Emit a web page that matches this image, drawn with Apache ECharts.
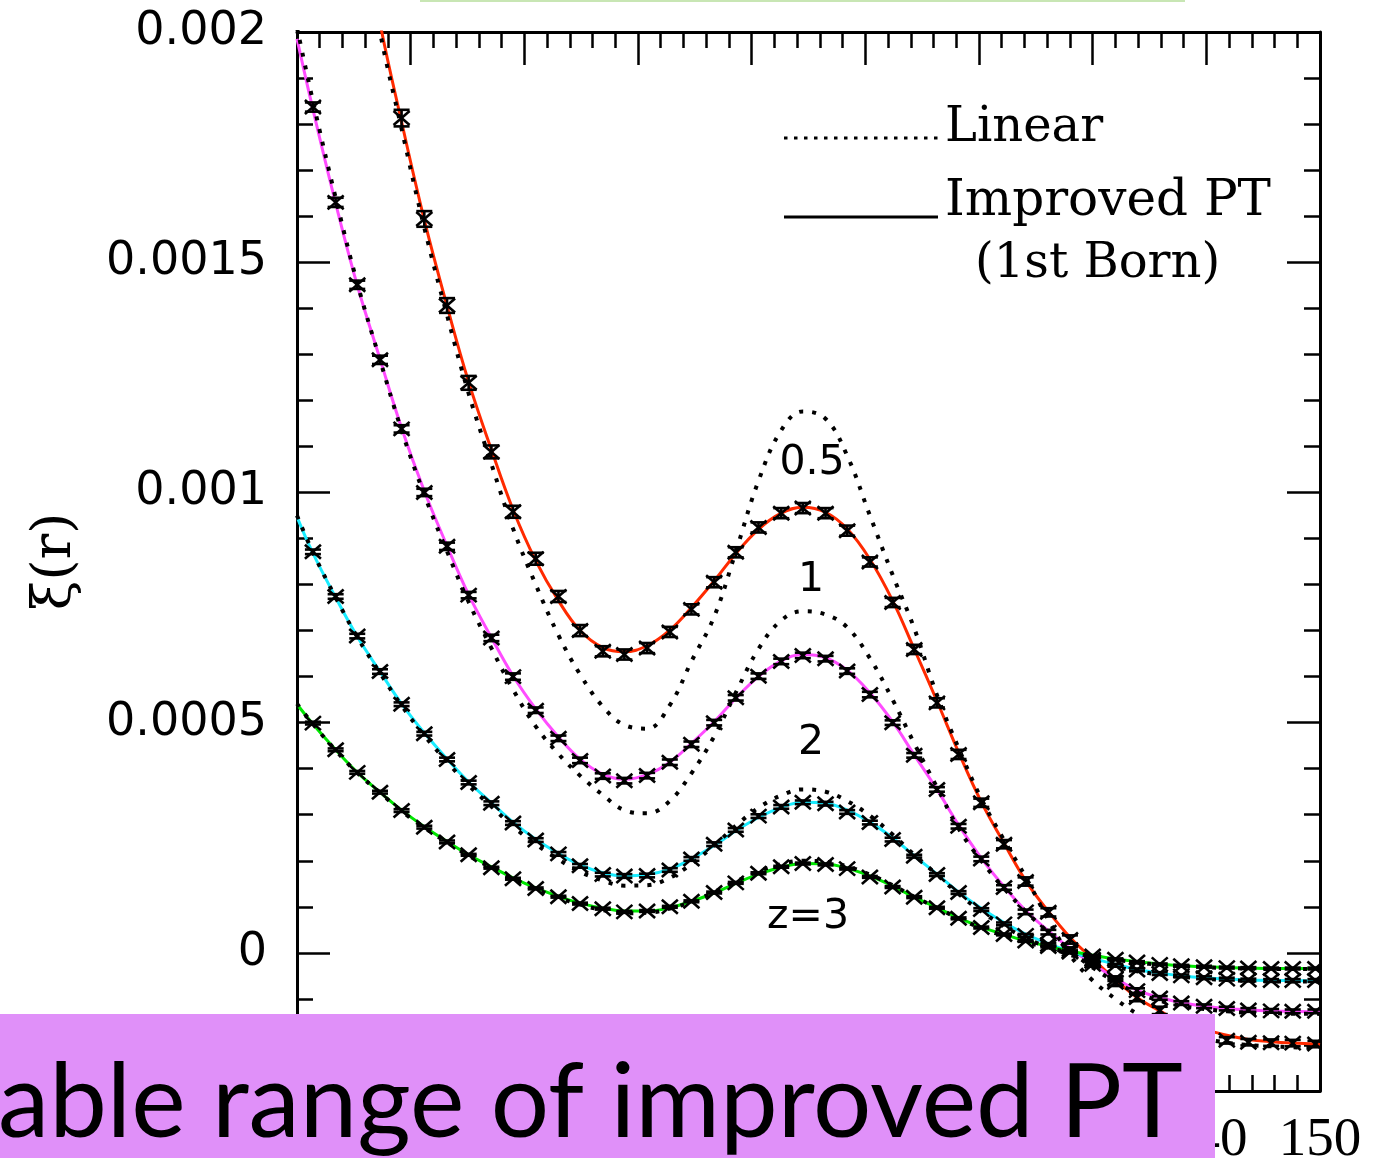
<!DOCTYPE html>
<html>
<head>
<meta charset="utf-8">
<script src="https://cdn.jsdelivr.net/npm/echarts@6.0.0/dist/echarts.min.js"></script>
<style>
html,body{margin:0;padding:0;background:#fff;}
#chart{width:1375px;height:1158px;}
</style>
</head>
<body>
<div id="chart"></div>
<script>
// separation r [Mpc/h] of the N-body bins
const xs = [61.4, 63.4, 65.3, 67.3, 69.2, 71.2, 73.2, 75.1, 77.1, 79.0,
  81.0, 83.0, 84.9, 86.9, 88.8, 90.8, 92.8, 94.7, 96.7, 98.6,
  100.6, 102.6, 104.5, 106.5, 108.4, 110.4, 112.4, 114.3, 116.3, 118.2,
  120.2, 122.2, 124.1, 126.1, 128.0, 130.0, 132.0, 133.9, 135.9, 137.8,
  139.8, 141.8, 143.7, 145.7, 147.6, 149.6];
// theory curves sampled at the axis ends plus the bin positions
const lineX = [60, 61.4, 63.4, 65.3, 67.3, 69.2, 71.2, 73.2, 75.1, 77.1, 79.0,
  81.0, 83.0, 84.9, 86.9, 88.8, 90.8, 92.8, 94.7, 96.7, 98.6,
  100.6, 102.6, 104.5, 106.5, 108.4, 110.4, 112.4, 114.3, 116.3, 118.2,
  120.2, 122.2, 124.1, 126.1, 128.0, 130.0, 132.0, 133.9, 135.9, 137.8,
  139.8, 141.8, 143.7, 145.7, 147.6, 149.6, 150];

const xTickLabels = ['60','70','80','90','100','110','120','130','140','150'];
const yTickValues = [0, 0.0005, 0.001, 0.0015, 0.002];
const yTickLabels = ['0','0.0005','0.001','0.0015','0.002'];

// N-body xi(r)
const nbZ05 = [null, null, null, null, 1.813e-3, 1.594e-3, 1.406e-3, 1.238e-3, 1.088e-3, 0.958e-3,
  0.856e-3, 0.774e-3, 0.700e-3, 0.655e-3, 0.648e-3, 0.662e-3, 0.697e-3, 0.746e-3, 0.805e-3, 0.870e-3,
  0.924e-3, 0.955e-3, 0.966e-3, 0.955e-3, 0.917e-3, 0.849e-3, 0.761e-3, 0.659e-3, 0.543e-3, 0.431e-3,
  0.326e-3, 0.236e-3, 0.155e-3, 0.088e-3, 0.029e-3, -0.018e-3, -0.064e-3, -0.097e-3, -0.125e-3, -0.151e-3,
  -0.166e-3, -0.190e-3, -0.194e-3, -0.195e-3, -0.196e-3, -0.198e-3];
const nbZ1 = [1.837e-3, 1.630e-3, 1.451e-3, 1.288e-3, 1.138e-3, 1.000e-3, 0.883e-3, 0.777e-3, 0.684e-3, 0.600e-3,
  0.527e-3, 0.466e-3, 0.418e-3, 0.384e-3, 0.374e-3, 0.385e-3, 0.414e-3, 0.453e-3, 0.500e-3, 0.554e-3,
  0.601e-3, 0.633e-3, 0.646e-3, 0.639e-3, 0.612e-3, 0.561e-3, 0.500e-3, 0.429e-3, 0.355e-3, 0.275e-3,
  0.204e-3, 0.142e-3, 0.089e-3, 0.045e-3, 0.007e-3, -0.025e-3, -0.056e-3, -0.082e-3, -0.098e-3, -0.109e-3,
  -0.116e-3, -0.121e-3, -0.124e-3, -0.126e-3, -0.127e-3, -0.127e-3];
const nbZ2 = [0.871e-3, 0.774e-3, 0.688e-3, 0.611e-3, 0.540e-3, 0.476e-3, 0.420e-3, 0.370e-3, 0.325e-3, 0.282e-3,
  0.245e-3, 0.215e-3, 0.189e-3, 0.170e-3, 0.167e-3, 0.168e-3, 0.180e-3, 0.204e-3, 0.236e-3, 0.267e-3,
  0.297e-3, 0.317e-3, 0.327e-3, 0.324e-3, 0.306e-3, 0.283e-3, 0.246e-3, 0.210e-3, 0.170e-3, 0.131e-3,
  0.094e-3, 0.063e-3, 0.038e-3, 0.018e-3, 0.002e-3, -0.014e-3, -0.027e-3, -0.037e-3, -0.045e-3, -0.050e-3,
  -0.054e-3, -0.057e-3, -0.059e-3, -0.060e-3, -0.060e-3, -0.060e-3];
const nbZ3 = [0.499e-3, 0.441e-3, 0.392e-3, 0.349e-3, 0.309e-3, 0.273e-3, 0.241e-3, 0.213e-3, 0.185e-3, 0.161e-3,
  0.140e-3, 0.122e-3, 0.107e-3, 0.096e-3, 0.089e-3, 0.091e-3, 0.100e-3, 0.112e-3, 0.131e-3, 0.152e-3,
  0.173e-3, 0.187e-3, 0.194e-3, 0.192e-3, 0.183e-3, 0.165e-3, 0.143e-3, 0.121e-3, 0.098e-3, 0.075e-3,
  0.055e-3, 0.040e-3, 0.026e-3, 0.014e-3, 0.003e-3, -0.007e-3, -0.014e-3, -0.020e-3, -0.025e-3, -0.028e-3,
  -0.030e-3, -0.032e-3, -0.033e-3, -0.034e-3, -0.034e-3, -0.034e-3];

// N-body error bars
const errZ05 = [0.019e-3, 0.019e-3, 0.018e-3, 0.018e-3, 0.018e-3, 0.017e-3, 0.016e-3, 0.015e-3, 0.014e-3, 0.013e-3,
  0.013e-3, 0.012e-3, 0.012e-3, 0.011e-3, 0.011e-3, 0.011e-3, 0.011e-3, 0.011e-3, 0.011e-3, 0.011e-3,
  0.011e-3, 0.011e-3, 0.011e-3, 0.011e-3, 0.011e-3, 0.010e-3, 0.010e-3, 0.010e-3, 0.010e-3, 0.010e-3,
  0.009e-3, 0.009e-3, 0.009e-3, 0.009e-3, 0.009e-3, 0.008e-3, 0.008e-3, 0.008e-3, 0.008e-3, 0.008e-3,
  0.008e-3, 0.007e-3, 0.007e-3, 0.007e-3, 0.007e-3, 0.007e-3];
const errZ1 = [0.010e-3, 0.010e-3, 0.009e-3, 0.009e-3, 0.008e-3, 0.008e-3, 0.008e-3, 0.007e-3, 0.007e-3, 0.007e-3,
  0.006e-3, 0.006e-3, 0.006e-3, 0.006e-3, 0.006e-3, 0.006e-3, 0.006e-3, 0.006e-3, 0.006e-3, 0.006e-3,
  0.006e-3, 0.006e-3, 0.006e-3, 0.006e-3, 0.006e-3, 0.006e-3, 0.005e-3, 0.005e-3, 0.005e-3, 0.005e-3,
  0.005e-3, 0.005e-3, 0.005e-3, 0.005e-3, 0.005e-3, 0.005e-3, 0.005e-3, 0.005e-3, 0.004e-3, 0.004e-3,
  0.004e-3, 0.004e-3, 0.004e-3, 0.004e-3, 0.004e-3, 0.004e-3];
const errZ2 = [0.005e-3, 0.005e-3, 0.005e-3, 0.005e-3, 0.004e-3, 0.004e-3, 0.004e-3, 0.004e-3, 0.004e-3, 0.004e-3,
  0.004e-3, 0.004e-3, 0.004e-3, 0.004e-3, 0.004e-3, 0.004e-3, 0.004e-3, 0.004e-3, 0.004e-3, 0.004e-3,
  0.004e-3, 0.004e-3, 0.004e-3, 0.004e-3, 0.004e-3, 0.004e-3, 0.004e-3, 0.003e-3, 0.003e-3, 0.003e-3,
  0.003e-3, 0.003e-3, 0.003e-3, 0.003e-3, 0.003e-3, 0.003e-3, 0.003e-3, 0.003e-3, 0.003e-3, 0.003e-3,
  0.003e-3, 0.003e-3, 0.003e-3, 0.003e-3, 0.003e-3, 0.003e-3];
const errZ3 = [0.003e-3, 0.003e-3, 0.003e-3, 0.003e-3, 0.003e-3, 0.003e-3, 0.003e-3, 0.002e-3, 0.002e-3, 0.002e-3,
  0.002e-3, 0.002e-3, 0.002e-3, 0.002e-3, 0.002e-3, 0.002e-3, 0.002e-3, 0.002e-3, 0.002e-3, 0.002e-3,
  0.002e-3, 0.002e-3, 0.002e-3, 0.002e-3, 0.002e-3, 0.002e-3, 0.002e-3, 0.002e-3, 0.002e-3, 0.002e-3,
  0.002e-3, 0.002e-3, 0.002e-3, 0.002e-3, 0.002e-3, 0.002e-3, 0.002e-3, 0.002e-3, 0.002e-3, 0.002e-3,
  0.002e-3, 0.002e-3, 0.002e-3, 0.002e-3, 0.002e-3, 0.002e-3];

// Improved PT (1st Born), sampled at lineX
const ptZ05 = [3.35e-3, 2.98e-3, 2.62e-3, 2.30e-3, 2.02e-3, 1.805e-3, 1.592e-3, 1.405e-3, 1.240e-3, 1.093e-3, 0.963e-3,
  0.852e-3, 0.765e-3, 0.700e-3, 0.663e-3, 0.654e-3, 0.667e-3, 0.701e-3, 0.750e-3, 0.808e-3, 0.867e-3,
  0.920e-3, 0.955e-3, 0.968e-3, 0.957e-3, 0.921e-3, 0.855e-3, 0.765e-3, 0.660e-3, 0.547e-3, 0.436e-3,
  0.328e-3, 0.238e-3, 0.157e-3, 0.090e-3, 0.034e-3, -0.013e-3, -0.058e-3, -0.097e-3, -0.126e-3, -0.151e-3,
  -0.166e-3, -0.179e-3, -0.188e-3, -0.193e-3, -0.196e-3, -0.198e-3, -0.199e-3];
const ptZ1 = [1.985e-3, 1.832e-3, 1.628e-3, 1.450e-3, 1.290e-3, 1.140e-3, 1.003e-3, 0.884e-3, 0.778e-3, 0.685e-3, 0.602e-3,
  0.530e-3, 0.469e-3, 0.421e-3, 0.388e-3, 0.377e-3, 0.387e-3, 0.414e-3, 0.455e-3, 0.502e-3, 0.553e-3,
  0.600e-3, 0.634e-3, 0.648e-3, 0.641e-3, 0.614e-3, 0.565e-3, 0.502e-3, 0.430e-3, 0.355e-3, 0.278e-3,
  0.206e-3, 0.144e-3, 0.092e-3, 0.048e-3, 0.010e-3, -0.024e-3, -0.055e-3, -0.081e-3, -0.097e-3, -0.108e-3,
  -0.116e-3, -0.121e-3, -0.124e-3, -0.126e-3, -0.127e-3, -0.128e-3, -0.128e-3];
const ptZ2 = [0.947e-3, 0.868e-3, 0.772e-3, 0.687e-3, 0.611e-3, 0.541e-3, 0.478e-3, 0.421e-3, 0.371e-3, 0.326e-3, 0.284e-3,
  0.247e-3, 0.216e-3, 0.191e-3, 0.174e-3, 0.167e-3, 0.170e-3, 0.182e-3, 0.204e-3, 0.233e-3, 0.265e-3,
  0.294e-3, 0.316e-3, 0.327e-3, 0.325e-3, 0.310e-3, 0.284e-3, 0.250e-3, 0.211e-3, 0.171e-3, 0.132e-3,
  0.097e-3, 0.066e-3, 0.041e-3, 0.020e-3, 0.003e-3, -0.012e-3, -0.025e-3, -0.036e-3, -0.044e-3, -0.050e-3,
  -0.054e-3, -0.057e-3, -0.059e-3, -0.060e-3, -0.060e-3, -0.061e-3, -0.061e-3];
const ptZ3 = [0.540e-3, 0.497e-3, 0.441e-3, 0.392e-3, 0.349e-3, 0.310e-3, 0.274e-3, 0.242e-3, 0.213e-3, 0.187e-3, 0.163e-3,
  0.141e-3, 0.123e-3, 0.108e-3, 0.097e-3, 0.091e-3, 0.091e-3, 0.098e-3, 0.112e-3, 0.130e-3, 0.151e-3,
  0.171e-3, 0.186e-3, 0.194e-3, 0.193e-3, 0.184e-3, 0.167e-3, 0.145e-3, 0.121e-3, 0.098e-3, 0.076e-3,
  0.056e-3, 0.040e-3, 0.026e-3, 0.014e-3, 0.004e-3, -0.005e-3, -0.013e-3, -0.019e-3, -0.024e-3, -0.028e-3,
  -0.030e-3, -0.032e-3, -0.033e-3, -0.034e-3, -0.034e-3, -0.034e-3, -0.034e-3];

// Linear theory, sampled at lineX
const linZ05 = [3.30e-3, 2.94e-3, 2.58e-3, 2.27e-3, 2.00e-3, 1.790e-3, 1.575e-3, 1.385e-3, 1.215e-3, 1.062e-3, 0.922e-3,
  0.800e-3, 0.690e-3, 0.605e-3, 0.535e-3, 0.495e-3, 0.487e-3, 0.538e-3, 0.633e-3, 0.730e-3, 0.871e-3,
  1.025e-3, 1.135e-3, 1.176e-3, 1.160e-3, 1.080e-3, 0.950e-3, 0.821e-3, 0.705e-3, 0.560e-3, 0.445e-3,
  0.335e-3, 0.245e-3, 0.165e-3, 0.072e-3, -0.005e-3, -0.060e-3, -0.100e-3, -0.132e-3, -0.156e-3, -0.173e-3,
  -0.186e-3, -0.195e-3, -0.200e-3, -0.203e-3, -0.205e-3, -0.206e-3, -0.206e-3];
const linZ1 = [2.010e-3, 1.850e-3, 1.640e-3, 1.455e-3, 1.288e-3, 1.135e-3, 0.995e-3, 0.872e-3, 0.762e-3, 0.662e-3, 0.572e-3,
  0.492e-3, 0.432e-3, 0.385e-3, 0.343e-3, 0.310e-3, 0.303e-3, 0.330e-3, 0.390e-3, 0.470e-3, 0.565e-3,
  0.660e-3, 0.722e-3, 0.742e-3, 0.735e-3, 0.707e-3, 0.640e-3, 0.550e-3, 0.455e-3, 0.360e-3, 0.270e-3,
  0.200e-3, 0.140e-3, 0.090e-3, 0.045e-3, 0.005e-3, -0.032e-3, -0.063e-3, -0.087e-3, -0.104e-3, -0.115e-3,
  -0.122e-3, -0.127e-3, -0.130e-3, -0.131e-3, -0.132e-3, -0.132e-3, -0.132e-3];
const linZ2 = [0.950e-3, 0.870e-3, 0.772e-3, 0.686e-3, 0.608e-3, 0.537e-3, 0.472e-3, 0.415e-3, 0.364e-3, 0.318e-3, 0.275e-3,
  0.236e-3, 0.203e-3, 0.176e-3, 0.157e-3, 0.146e-3, 0.147e-3, 0.163e-3, 0.193e-3, 0.233e-3, 0.276e-3,
  0.315e-3, 0.342e-3, 0.355e-3, 0.350e-3, 0.330e-3, 0.298e-3, 0.257e-3, 0.213e-3, 0.170e-3, 0.128e-3,
  0.090e-3, 0.058e-3, 0.032e-3, 0.012e-3, -0.004e-3, -0.018e-3, -0.030e-3, -0.040e-3, -0.047e-3, -0.052e-3,
  -0.056e-3, -0.059e-3, -0.061e-3, -0.062e-3, -0.062e-3, -0.062e-3, -0.062e-3];
const linZ3 = [0.541e-3, 0.497e-3, 0.440e-3, 0.391e-3, 0.348e-3, 0.308e-3, 0.272e-3, 0.240e-3, 0.211e-3, 0.185e-3, 0.161e-3,
  0.139e-3, 0.120e-3, 0.105e-3, 0.093e-3, 0.086e-3, 0.087e-3, 0.096e-3, 0.111e-3, 0.132e-3, 0.155e-3,
  0.177e-3, 0.193e-3, 0.200e-3, 0.198e-3, 0.188e-3, 0.170e-3, 0.147e-3, 0.122e-3, 0.098e-3, 0.075e-3,
  0.054e-3, 0.037e-3, 0.023e-3, 0.011e-3, 0.001e-3, -0.008e-3, -0.015e-3, -0.021e-3, -0.026e-3, -0.029e-3,
  -0.031e-3, -0.033e-3, -0.034e-3, -0.035e-3, -0.035e-3, -0.035e-3, -0.035e-3];

const colZ05 = '#ff2a00', colZ1 = '#ff4cff', colZ2 = '#19ecff', colZ3 = '#00e600';

function pairs(xArr, yArr) {
  return xArr.map((x, i) => [x, yArr[i]]);
}
function triples(xArr, yArr, eArr) {
  const out = [];
  xArr.forEach((x, i) => { if (yArr[i] !== null) out.push([x, yArr[i], eArr[i]]); });
  return out;
}
function ptSeries(name, vals, color) {
  return { name, type: 'line', data: pairs(lineX, vals), smooth: 0.4, symbol: 'none', z: 2,
    lineStyle: { color, width: 3 }, clip: true, silent: true };
}
function linSeries(name, vals) {
  return { name, type: 'line', data: pairs(lineX, vals), smooth: 0.4, symbol: 'none', z: 3,
    lineStyle: { color: '#000', width: 4, type: [4, 9], cap: 'butt' }, clip: true, silent: true };
}
function renderNbody(params, api) {
  const x = api.value(0), y = api.value(1), e = api.value(2);
  const c = api.coord([x, y]), t = api.coord([x, y + e]), b = api.coord([x, y - e]);
  const w = 8, h = 7, cw = 8;
  const st = { stroke: '#000', lineWidth: 2.6 };
  return { type: 'group', children: [
    { type: 'line', shape: { x1: c[0] - w, y1: c[1] - h, x2: c[0] + w, y2: c[1] + h }, style: st },
    { type: 'line', shape: { x1: c[0] - w, y1: c[1] + h, x2: c[0] + w, y2: c[1] - h }, style: st },
    { type: 'line', shape: { x1: c[0], y1: t[1], x2: c[0], y2: b[1] }, style: st },
    { type: 'line', shape: { x1: c[0] - cw, y1: t[1], x2: c[0] + cw, y2: t[1] }, style: st },
    { type: 'line', shape: { x1: c[0] - cw, y1: b[1], x2: c[0] + cw, y2: b[1] }, style: st }
  ]};
}
function nbSeries(name, vals, errs) {
  return { name, type: 'custom', data: triples(xs, vals, errs), renderItem: renderNbody, z: 4, clip: true, silent: true };
}

const tickStyle = { color: '#000', width: 2.5 };
const axisLineStyle = { color: '#000', width: 3 };
function xAxisDef(pos, showLabel) {
  return {
    type: 'value', min: 60, max: 150, interval: 10, position: pos,
    axisLine: { show: true, onZero: false, lineStyle: axisLineStyle },
    axisTick: { show: true, inside: true, length: 33, lineStyle: tickStyle },
    minorTick: { show: true, splitNumber: 5, length: 16, lineStyle: tickStyle },
    splitLine: { show: false }, minorSplitLine: { show: false },
    axisLabel: { show: showLabel, color: '#000', fontFamily: 'Liberation Serif', fontSize: 55, margin: 22,
      showMinLabel: true, showMaxLabel: true, hideOverlap: false,
      formatter: v => { const i = Math.round((v - 60) / 10); return xTickLabels[i] || ''; } }
  };
}
function yLabelFmt(v) {
  for (let i = 0; i < yTickValues.length; i++) {
    if (Math.abs(v - yTickValues[i]) < 1e-9) return yTickLabels[i];
  }
  return '';
}
function yMinorDef(pos, showLabel) {
  return {
    type: 'value', min: -0.0003, max: 0.002, interval: 0.0001, position: pos,
    axisLine: { show: true, onZero: false, lineStyle: axisLineStyle },
    axisTick: { show: true, inside: true, length: 16, lineStyle: tickStyle },
    splitLine: { show: false },
    axisLabel: { show: showLabel, color: '#000', fontFamily: 'DejaVu Sans', fontSize: 46, margin: 30,
      showMinLabel: true, showMaxLabel: true, hideOverlap: false, formatter: yLabelFmt },
    name: showLabel ? 'ξ(r)' : '', nameLocation: 'middle', nameRotate: 90, nameGap: 214,
    nameTextStyle: { fontFamily: 'DejaVu Serif', fontSize: 54, color: '#000' }
  };
}
function yMajorDef(pos) {
  return {
    type: 'value', min: -0.0003, max: 0.002, position: pos,
    axisLine: { show: false, onZero: false },
    axisTick: { show: true, inside: true, length: 33, lineStyle: tickStyle, customValues: yTickValues },
    axisLabel: { show: false }, splitLine: { show: false }
  };
}

const chart = echarts.init(document.getElementById('chart'), null, { renderer: 'canvas' });
chart.setOption({
  animation: false,
  backgroundColor: '#fff',
  grid: { left: 297, right: 55, top: 32, bottom: 67, containLabel: false, outerBoundsMode: 'none' },
  xAxis: [xAxisDef('bottom', true), xAxisDef('top', false)],
  yAxis: [yMinorDef('left', true), yMajorDef('left'), yMinorDef('right', false), yMajorDef('right')],
  series: [
    ptSeries('Improved PT z=0.5', ptZ05, colZ05),
    ptSeries('Improved PT z=1', ptZ1, colZ1),
    ptSeries('Improved PT z=2', ptZ2, colZ2),
    ptSeries('Improved PT z=3', ptZ3, colZ3),
    linSeries('Linear z=0.5', linZ05),
    linSeries('Linear z=1', linZ1),
    linSeries('Linear z=2', linZ2),
    linSeries('Linear z=3', linZ3),
    nbSeries('N-body z=0.5', nbZ05, errZ05),
    nbSeries('N-body z=1', nbZ1, errZ1),
    nbSeries('N-body z=2', nbZ2, errZ2),
    nbSeries('N-body z=3', nbZ3, errZ3)
  ],
  graphic: [
    { type: 'rect', shape: { x: 420, y: -20, width: 765, height: 22 }, style: { fill: '#c8e6b4' }, z: 100 },
    // legend
    { type: 'line', shape: { x1: 784, y1: 138, x2: 938, y2: 138 }, style: { stroke: '#000', lineWidth: 3, lineDash: [3.5, 6.5] }, z: 100 },
    { type: 'text', x: 945, y: 129, style: { text: 'Linear', font: '48px "DejaVu Serif"', fill: '#000', textAlign: 'left', textVerticalAlign: 'middle' }, z: 100 },
    { type: 'line', shape: { x1: 784, y1: 217, x2: 938, y2: 217 }, style: { stroke: '#000', lineWidth: 3 }, z: 100 },
    { type: 'text', x: 945, y: 202, style: { text: 'Improved PT', font: '50px "DejaVu Serif"', fill: '#000', textAlign: 'left', textVerticalAlign: 'middle' }, z: 100 },
    { type: 'text', x: 975, y: 265, style: { text: '(1st Born)', font: '48px "DejaVu Serif"', fill: '#000', textAlign: 'left', textVerticalAlign: 'middle' }, z: 100 },
    // curve labels
    { type: 'text', x: 812, y: 463, style: { text: '0.5', font: '41px "DejaVu Sans"', fill: '#000', textAlign: 'center', textVerticalAlign: 'middle' }, z: 100 },
    { type: 'text', x: 811, y: 580, style: { text: '1', font: '41px "DejaVu Sans"', fill: '#000', textAlign: 'center', textVerticalAlign: 'middle' }, z: 100 },
    { type: 'text', x: 811, y: 743, style: { text: '2', font: '41px "DejaVu Sans"', fill: '#000', textAlign: 'center', textVerticalAlign: 'middle' }, z: 100 },
    { type: 'text', x: 808, y: 917, style: { text: 'z=3', font: '41px "DejaVu Sans"', fill: '#000', textAlign: 'center', textVerticalAlign: 'middle' }, z: 100 },
    // overlay banner
    { type: 'rect', shape: { x: 0, y: 1014, width: 1215, height: 150 }, style: { fill: '#e090f9' }, z: 200 },
    { type: 'text', x: -2, y: 1104, style: { text: 'able range of improved PT', font: '103px Lato', fill: '#000', textAlign: 'left', textVerticalAlign: 'middle' }, z: 201 }
  ]
});
</script>
</body>
</html>
